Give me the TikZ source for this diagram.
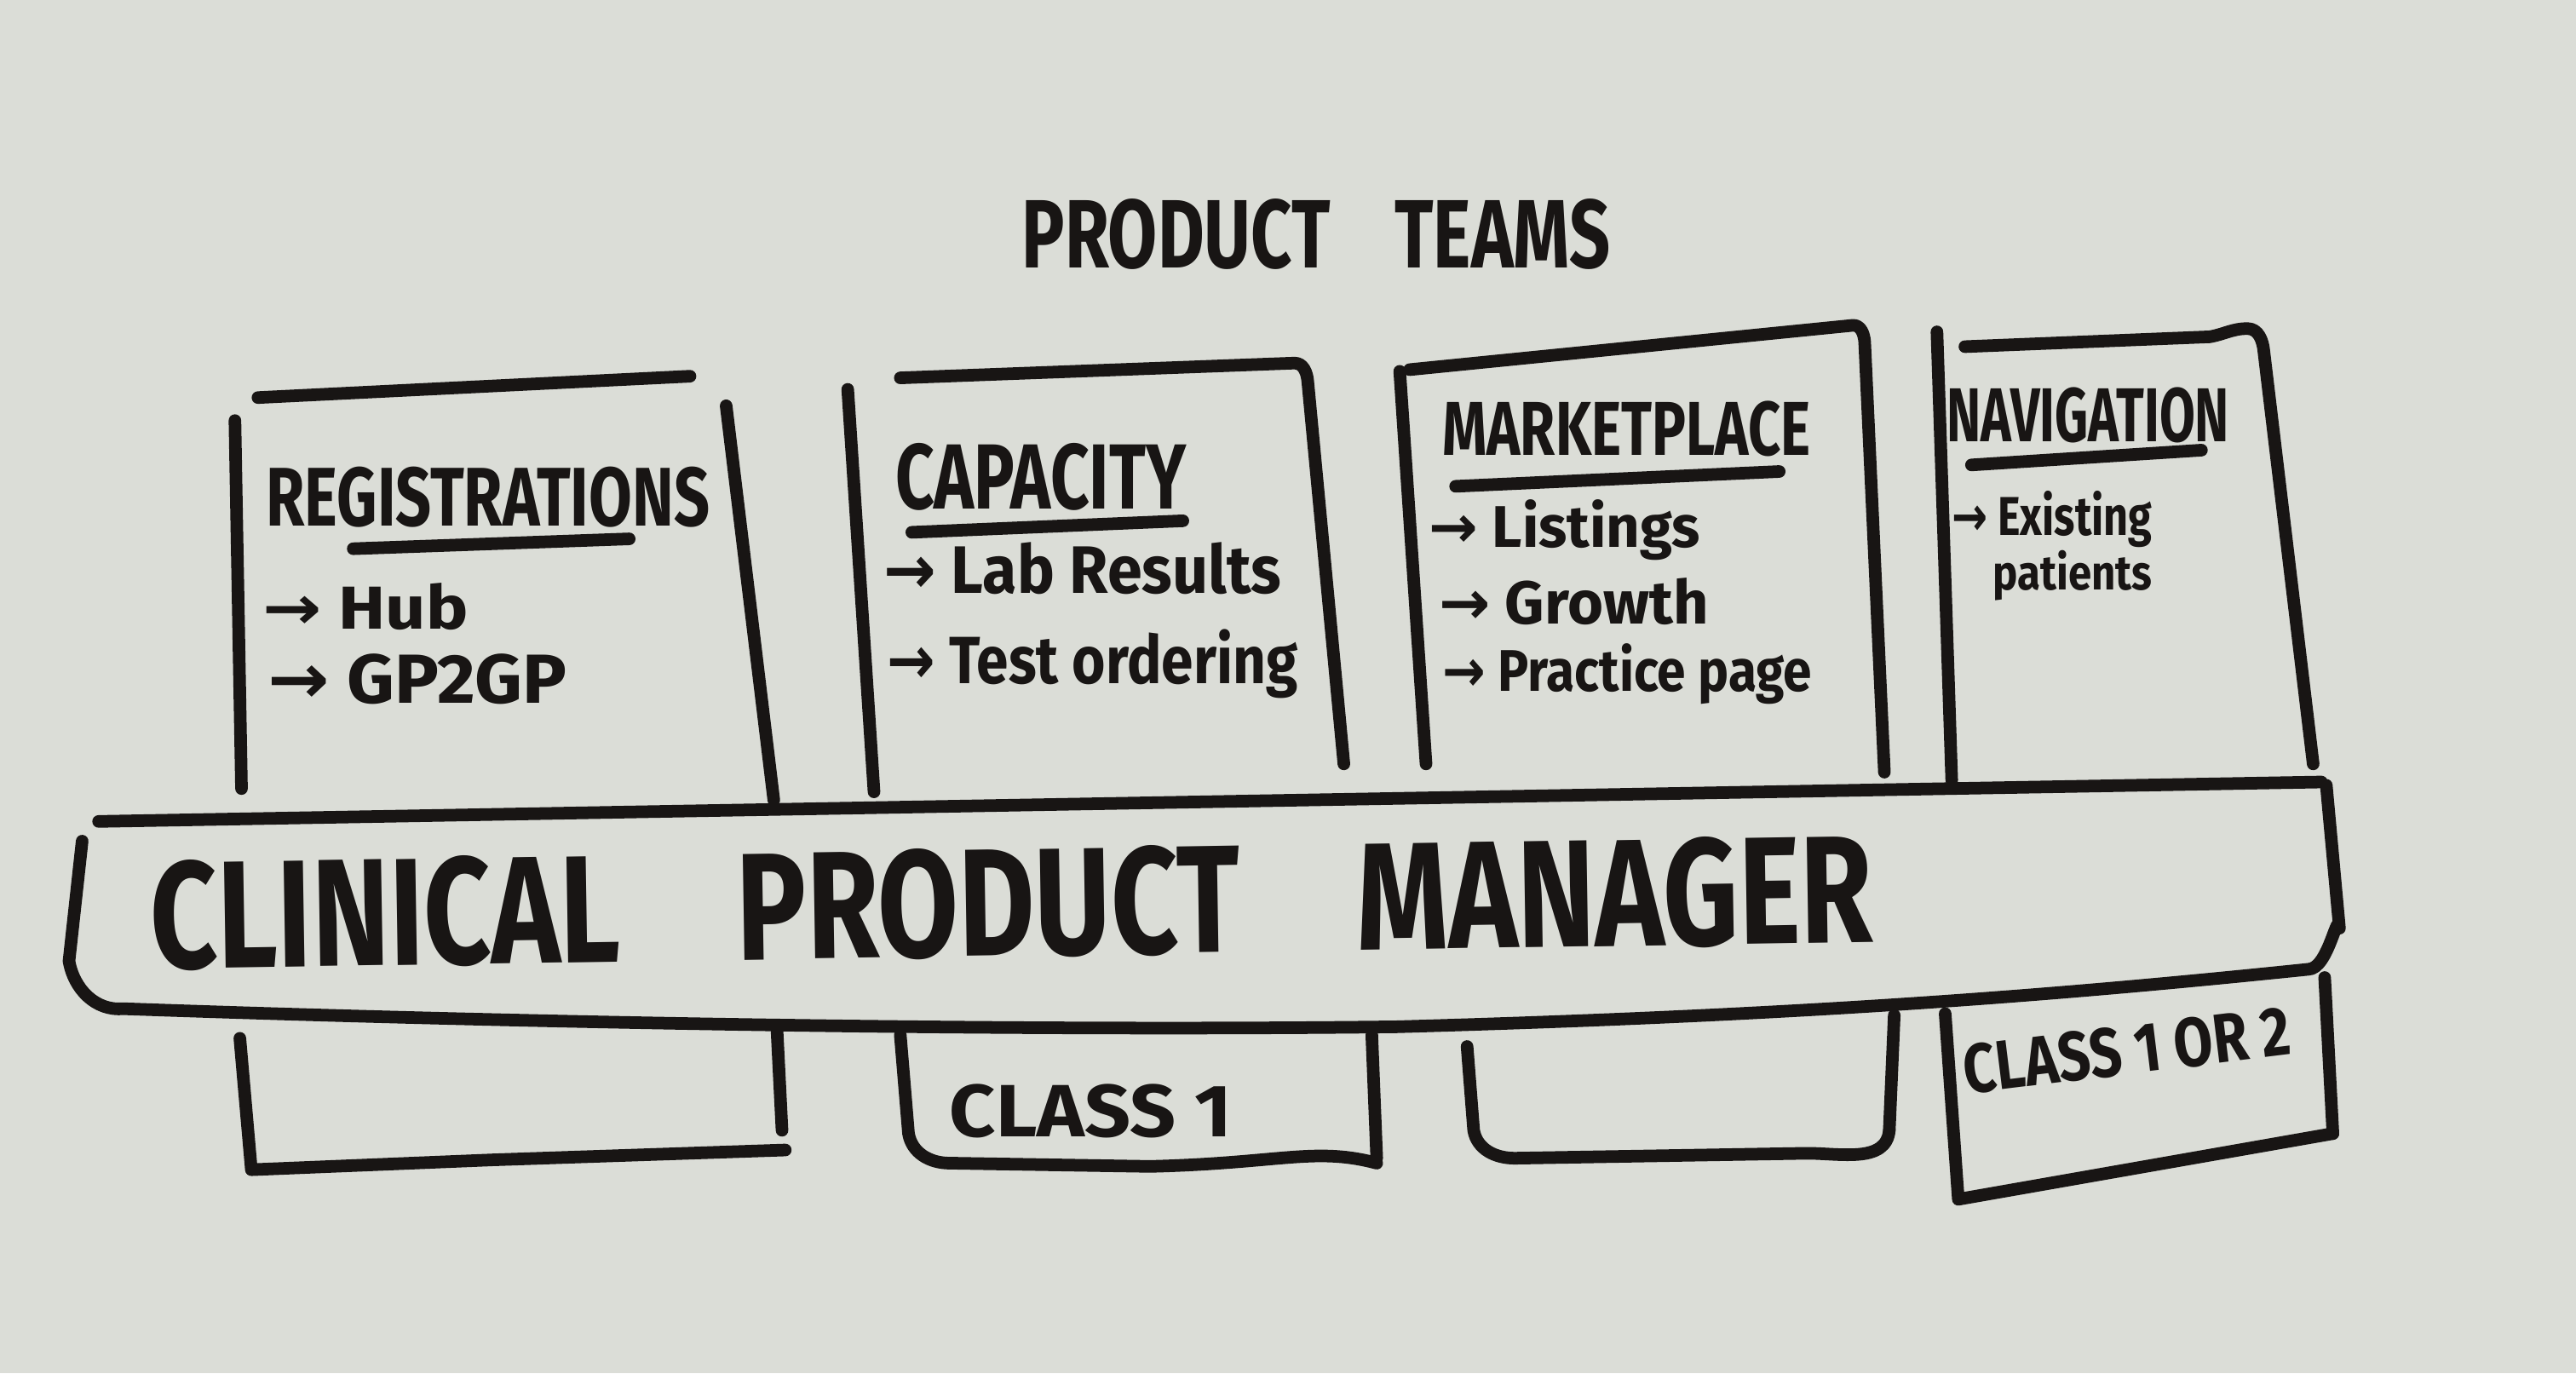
\documentclass[tikz,border=0pt]{standalone}
\usepackage{graphicx}
\usepackage{fontspec}
\setmainfont{Fira Sans}
\newfontfamily\arrowfont{DejaVu Sans}
\definecolor{paper}{RGB}{219,221,215}
\definecolor{ink}{RGB}{24,21,20}
\newcommand{\fitbox}[3]{\resizebox{#1\unitlength}{#2\unitlength}{\bfseries #3}}
\newcommand{\arr}{{\arrowfont\bfseries →}}
\setlength{\unitlength}{0.01929cm}
\tikzset{
  pen/.style={draw=ink, line width=4.2pt, line cap=round, line join=round},
  lbl/.style={anchor=base west, inner sep=0pt, outer sep=0pt, text=ink},
}
\begin{document}
\begin{tikzpicture}[x=0.01929cm, y=-0.01929cm]
\useasboundingbox (0,0) rectangle (1568,836);
\fill[paper] (0,0) rectangle (1568,836);

% title
\node[lbl] (title) at (622,163) {\fitbox{358}{42}{PRODUCT\hspace{0.9em}TEAMS}};

% ---- team boxes (upper parts)
% Registration
\draw[pen] (143,256) -- (147,480);
\draw[pen] (157,242) -- (420,229);
\draw[pen] (442,247) -- (471,487);
% Capacity
\draw[pen] (516,237) -- (532,482);
\draw[pen] (548,230) -- (788,221) to[out=0,in=95] (796,232) -- (818,465);
% Marketplace
\draw[pen] (852,226) -- (868,465);
\draw[pen] (858,225) -- (1128,198) to[out=0,in=95] (1135,208) -- (1147,470);
% Navigation
\draw[pen] (1179,202) -- (1188,475);
\draw[pen] (1196,211) -- (1345,205) to[out=10,in=180] (1368,200) to[out=0,in=95] (1378,214) -- (1408,465);

% ---- labels in boxes
\node[lbl] (reg) at (162,320) {\fitbox{270}{36}{REGISTRATIONS}};
\draw[pen] (215,334) -- (383,328);
\node[lbl] (hub) at (160,383) {\fitbox{125}{28}{\arr\ Hub}};
\node[lbl] (gp) at (163,428) {\fitbox{182}{30}{\arr\ GP2GP}};

\node[lbl] (cap) at (545,310) {\fitbox{177}{40}{CAPACITY}};
\draw[pen] (555,324) -- (720,317);
\node[lbl] (lab) at (538,361) {\fitbox{242}{31}{\arr\ Lab Results}};
\node[lbl] (test) at (540,416) {\fitbox{250}{33}{\arr\ Test ordering}};

\node[lbl] (mkt) at (878,277) {\fitbox{224}{33}{MARKETPLACE}};
\draw[pen] (886,296) -- (1083,287);
\node[lbl] (lst) at (870,333) {\fitbox{165}{29}{\arr\ Listings}};
\node[lbl] (grw) at (876,380) {\fitbox{164}{28}{\arr\ Growth}};
\node[lbl] (prc) at (878,421) {\fitbox{225}{29}{\arr\ Practice page}};

\node[lbl] (nav) at (1185,269) {\fitbox{172}{33}{NAVIGATION}};
\draw[pen] (1200,283) -- (1340,274);
\node[lbl] (ex) at (1188,326) {\fitbox{122}{27}{\arr\ Existing}};
\node[lbl] (pat) at (1213,359) {\fitbox{97}{24}{patients}};

% ---- clinical product manager band
\draw[pen] (60,500) -- (1413,476);
\draw[pen] (1416,478) -- (1424,565) to[out=95,in=0] (1405,590)
  .. controls (1250,606) and (1100,618) .. (850,625)
  .. controls (600,628) and (300,622) .. (75,614)
  to[out=185,in=-80] (42,585) -- (50,512);
\node[lbl, rotate=0.9] (cpm) at (92,590) {\fitbox{1048}{66}{CLINICAL\hspace{1em}PRODUCT\hspace{1em}MANAGER}};

% ---- lower parts of boxes
% Registration
\draw[pen] (146,632) -- (153,712) -- (300,706) -- (478,700);
\draw[pen] (473,628) -- (476,688);
% Capacity
\draw[pen] (548,630) -- (553,690) to[out=-80,in=180] (578,708) -- (700,710)
  .. controls (780,708) and (800,698) .. (838,708);
\draw[pen] (835,630) -- (838,705);
% Marketplace
\draw[pen] (893,637) -- (897,688) to[out=-80,in=180] (922,705) -- (1100,702) to[out=0,in=-95] (1150,688);
\draw[pen] (1153,618) -- (1150,688);
% Navigation
\draw[pen] (1184,617) -- (1192,730) -- (1420,690);
\draw[pen] (1415,595) -- (1420,690);

\node[lbl] (c1) at (578,692) {\fitbox{172}{32}{CLASS 1}};
\node[lbl, rotate=7] (c12) at (1197,666) {\fitbox{200}{30}{CLASS 1 OR 2}};
\end{tikzpicture}
\end{document}
